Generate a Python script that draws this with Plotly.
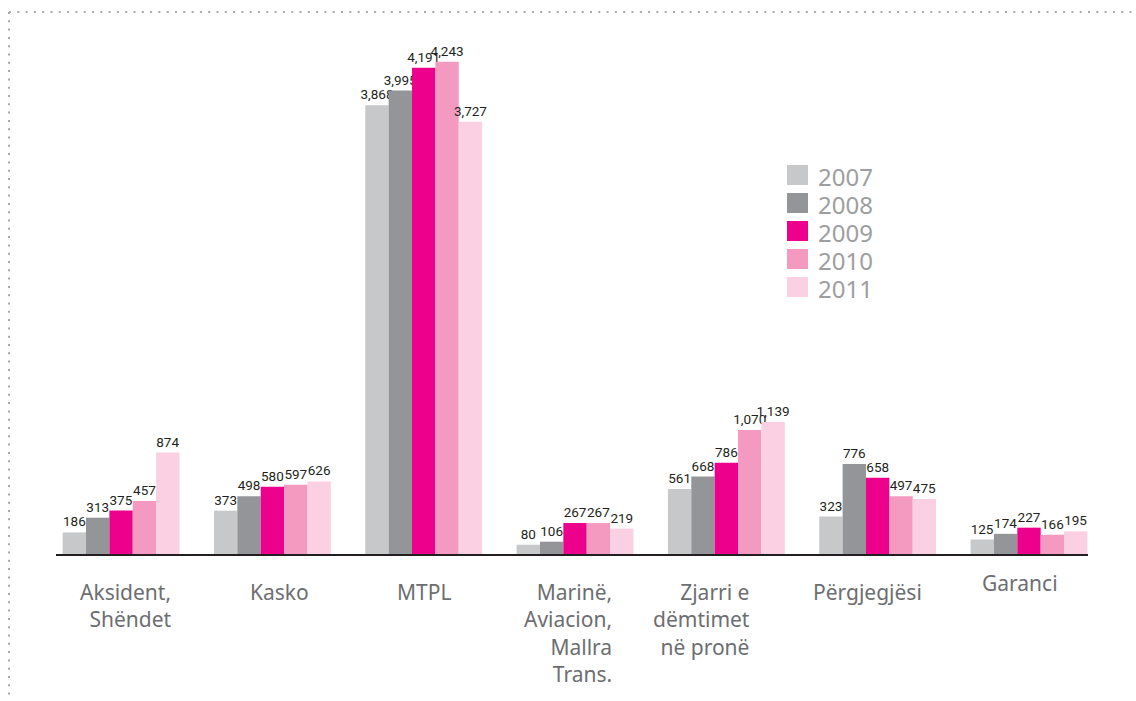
import plotly.graph_objects as go

categories = ["Aksident, Shëndet", "Kasko", "MTPL", "Marinë, Aviacion, Mallra Trans.",
              "Zjarri e dëmtimet në pronë", "Përgjegjësi", "Garanci"]
cat_labels = ["Aksident,<br> Shëndet", "Kasko", "MTPL", "Marinë,<br>Aviacion,<br>Mallra<br>Trans.",
              "Zjarri e<br>dëmtimet<br>në pronë", "Përgjegjësi", "Garanci"]
years = ["2007", "2008", "2009", "2010", "2011"]
v2007 = [186, 373, 3868, 80, 561, 323, 125]
v2008 = [313, 498, 3995, 106, 668, 776, 174]
v2009 = [375, 580, 4191, 267, 786, 658, 227]
v2010 = [457, 597, 4243, 267, 1070, 497, 166]
v2011 = [874, 626, 3727, 219, 1139, 475, 195]
series = [v2007, v2008, v2009, v2010, v2011]
colors = ["#c7c8ca", "#939598", "#ec008c", "#f49ac1", "#fbd0e2"]

W, H = 1136, 701
ML, MR, MT, MB = 56, 48, 32, 147
PW, PH = W - ML - MR, H - MT - MB

def px(x):
    return (x - ML) / PW

def py(y):
    return (H - MB - y) / PH

fig = go.Figure()
for name, vals, col in zip(years, series, colors):
    fig.add_trace(go.Bar(
        name=name, x=categories, y=vals, marker=dict(color=col, line=dict(width=0)),
        text=[f"{v:,}" for v in vals], textposition="outside", constraintext="none",
        cliponaxis=False,
        textfont=dict(family="Roboto", size=13.5, color="#231f20"),
        showlegend=False, hoverinfo="x+y+name",
    ))

annotations = []
# category labels (right-aligned multi-line)
label_shift = [4, 7, 0, -7, -25, -10, -9]
label_yshift = [-22, -22, -22, -22, -22, -22, -13]
for c, lab, dx, dy in zip(categories, cat_labels, label_shift, label_yshift):
    annotations.append(dict(
        x=c, y=0, xref="x", yref="y", text=lab, showarrow=False, align="right",
        xanchor="center", yanchor="top", xshift=dx, yshift=dy,
        font=dict(family="Noto Sans", size=21, color="#6d6e71"),
    ))

shapes = []
# custom legend
for i, (name, col) in enumerate(zip(years, colors)):
    cy = 175 + i * 28
    shapes.append(dict(type="rect", xref="paper", yref="paper",
                       x0=px(787), x1=px(808), y0=py(cy - 10), y1=py(cy + 10),
                       fillcolor=col, line=dict(width=0)))
    annotations.append(dict(x=px(817), y=py(cy + 1), xref="paper", yref="paper", text=name,
                            showarrow=False, xanchor="left", yanchor="middle",
                            height=26, borderpad=0, valign="middle",
                            font=dict(family="Noto Sans", size=24, color="#9d9ea0")))

# dotted frame
dot = dict(color="#a7a9ac", width=2, dash="2px,6.3px")
shapes.append(dict(type="line", xref="paper", yref="paper", x0=px(9), x1=px(1140),
                   y0=py(12), y1=py(12), line=dot))
shapes.append(dict(type="line", xref="paper", yref="paper", x0=px(9), x1=px(9),
                   y0=py(12), y1=py(705), line=dot))

fig.update_layout(
    width=W, height=H, margin=dict(l=ML, r=MR, t=MT, b=MB),
    paper_bgcolor="white", plot_bgcolor="white",
    barmode="group", bargap=0.228, bargroupgap=0,
    annotations=annotations, shapes=shapes,
    xaxis=dict(range=[-0.43, 6.39], showticklabels=False, showgrid=False, zeroline=False,
               showline=True, linecolor="#231f20", linewidth=1.5, ticks=""),
    yaxis=dict(range=[0, 4500], visible=False, showgrid=False, zeroline=False),
)

fig.write_html("out.html", config={"displayModeBar": False},
               post_script="document.body.style.margin='0';document.body.style.overflow='hidden';")
